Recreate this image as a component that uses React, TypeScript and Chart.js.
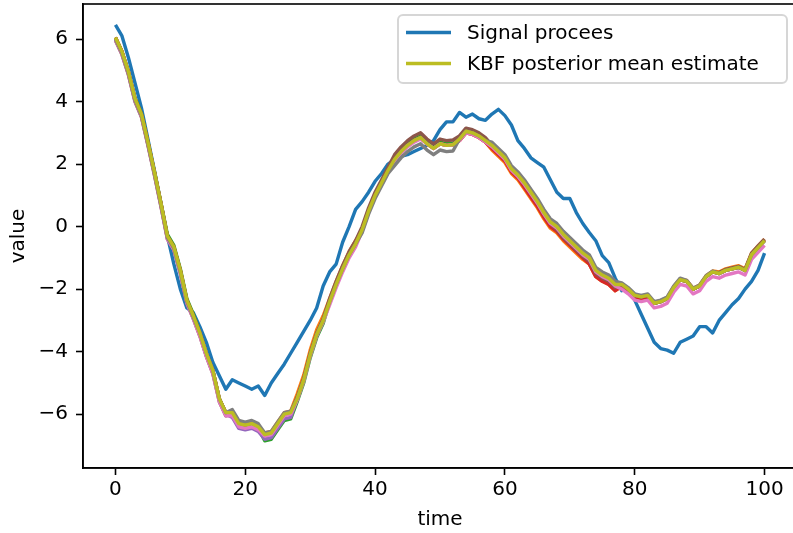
import React, { useEffect, useRef } from 'react';
import { Chart, registerables } from 'chart.js';

Chart.register(...registerables);

// sample times 0..100 (step 1)
const timeSteps: number[] = Array.from({ length: 101 }, (_, i) => i);

const signalValues: number[] = [
  6.45, 6.1, 5.4, 4.6, 3.8, 2.8, 1.8, 0.75, -0.3, -1.2,
  -2.0, -2.6, -2.75, -3.2, -3.7, -4.34, -4.77, -5.2, -4.9, -5.0,
  -5.1, -5.2, -5.1, -5.4, -5.0, -4.7, -4.4, -4.05, -3.7, -3.35,
  -3.0, -2.6, -1.9, -1.45, -1.2, -0.5, 0.0, 0.55, 0.8, 1.1,
  1.45, 1.7, 2.0, 2.15, 2.25, 2.3, 2.4, 2.5, 2.6, 2.75,
  3.1, 3.35, 3.35, 3.65, 3.5, 3.6, 3.45, 3.4, 3.6, 3.75,
  3.55, 3.25, 2.75, 2.5, 2.2, 2.05, 1.9, 1.5, 1.1, 0.9,
  0.9, 0.45, 0.1, -0.19, -0.45, -0.93, -1.15, -1.65, -2.05, -2.0,
  -2.35, -2.8, -3.25, -3.7, -3.9, -3.95, -4.05, -3.7, -3.6, -3.5,
  -3.2, -3.2, -3.4, -3.0, -2.75, -2.5, -2.3, -2.0, -1.75, -1.4, -0.85,
];

const meanValues: number[] = [
  6.05, 5.6, 4.95, 4.1, 3.6, 2.7, 1.75, 0.75, -0.3, -0.65,
  -1.4, -2.35, -2.85, -3.4, -4.05, -4.6, -5.5, -5.95, -5.95, -6.3,
  -6.35, -6.3, -6.4, -6.65, -6.6, -6.3, -6.0, -5.95, -5.5, -4.9,
  -4.1, -3.45, -3.0, -2.4, -1.85, -1.35, -0.9, -0.55, -0.1, 0.5,
  1.0, 1.4, 1.8, 2.15, 2.4, 2.6, 2.75, 2.85, 2.65, 2.5,
  2.65, 2.6, 2.62, 2.8, 3.05, 3.0, 2.9, 2.75, 2.6, 2.4,
  2.2, 1.85, 1.65, 1.4, 1.1, 0.8, 0.45, 0.15, 0.0, -0.25,
  -0.45, -0.65, -0.85, -1.0, -1.4, -1.55, -1.65, -1.85, -1.85, -2.0,
  -2.2, -2.25, -2.2, -2.45, -2.4, -2.3, -1.95, -1.7, -1.75, -2.0,
  -1.9, -1.6, -1.45, -1.5, -1.4, -1.35, -1.3, -1.4, -0.9, -0.67, -0.45,
];

// deviation of each particle estimate from the mean, read every 5 time units
const offsetStep = 5;
const orangeOffsets = [0, 0, 0, 0, 0.02, 0.05, 0.15, 0.1, 0, 0, 0, -0.05, -0.15, -0.2, -0.2, -0.2, -0.05, 0.03, 0.03, 0.05, 0.05];
const greenOffsets = [0, 0.02, 0.05, 0, -0.05, -0.2, -0.1, 0, 0, 0.05, 0.05, 0, 0, -0.05, -0.05, -0.05, 0, 0, 0, 0, 0];
const redOffsets = [0, 0, 0, 0, -0.05, 0, 0, 0, 0, 0, 0, -0.05, -0.1, -0.15, -0.15, -0.2, -0.05, 0, 0, 0, 0];
const purpleOffsets = [-0.05, -0.05, -0.05, -0.05, -0.15, -0.15, 0, 0, 0, 0, 0, 0, 0, 0, 0, 0, 0, 0, 0, 0, 0];
const brownOffsets = [-0.1, -0.1, -0.1, -0.1, -0.05, 0, 0.05, 0.1, 0.1, 0.15, 0.15, 0.1, 0, -0.05, -0.1, -0.1, 0, 0, 0, 0.03, 0.05];
const pinkOffsets = [-0.08, -0.08, -0.1, -0.1, -0.1, -0.05, -0.05, -0.1, -0.05, -0.05, 0, -0.05, -0.05, -0.05, -0.05, -0.05, -0.15, -0.15, -0.15, -0.15, -0.15];
const grayOffsets = [-0.05, -0.05, -0.05, 0, 0.1, 0.05, 0, 0, -0.1, -0.2, -0.2, 0, 0.1, 0.1, 0.1, 0.1, 0.05, 0.05, 0.03, 0, 0];

const particleOffsets = [orangeOffsets, greenOffsets, redOffsets, purpleOffsets, brownOffsets, pinkOffsets, grayOffsets];
const particleColors = ['#ff7f0e', '#2ca02c', '#d62728', '#9467bd', '#8c564b', '#e377c2', '#7f7f7f'];

const xTicks = [0, 20, 40, 60, 80, 100];
const yTicks = [-6, -4, -2, 0, 2, 4, 6];

const legendLabels = ['Signal procees', 'KBF posterior mean estimate'];
const signalColor = '#1f77b4';
const meanColor = '#bcbd22';

const FONT = '"DejaVu Sans", sans-serif';
const LINE_W = 3.4;

const framePlugin = {
  id: 'mplFrame',
  afterDraw(chart: any) {
    const { ctx, chartArea } = chart;
    ctx.save();
    ctx.strokeStyle = '#000';
    ctx.lineWidth = 1.6;
    ctx.strokeRect(chartArea.left, chartArea.top, chartArea.right - chartArea.left, chartArea.bottom - chartArea.top);

    // legend
    const w = 389;
    const h = 68;
    const x = chartArea.right - 10 - w;
    const y = chartArea.top + 11;
    ctx.beginPath();
    (ctx as any).roundRect(x, y, w, h, 5);
    ctx.fillStyle = 'rgba(255,255,255,0.8)';
    ctx.fill();
    ctx.strokeStyle = 'rgba(204,204,204,0.8)';
    ctx.lineWidth = 2;
    ctx.stroke();

    const colors = [signalColor, meanColor];
    const rows = [y + 17.5, y + 48.5];
    ctx.font = `20px ${FONT}`;
    ctx.textBaseline = 'middle';
    ctx.textAlign = 'left';
    legendLabels.forEach((label, i) => {
      ctx.beginPath();
      ctx.moveTo(x + 8, rows[i]);
      ctx.lineTo(x + 53, rows[i]);
      ctx.strokeStyle = colors[i];
      ctx.lineWidth = LINE_W;
      ctx.stroke();
      ctx.fillStyle = '#000';
      ctx.fillText(label, x + 69, rows[i] + 1);
    });
    ctx.restore();
  },
};

export default function App() {
  const canvasRef = useRef<HTMLCanvasElement | null>(null);

  useEffect(() => {
    if (!canvasRef.current) return;
    Chart.defaults.color = '#000';
    Chart.defaults.font.family = FONT;

    const toPoints = (vals: number[]) => timeSteps.map((t, i) => ({ x: t, y: vals[i] }));

    const particleSets = particleOffsets.map((offs, k) => ({
      label: `particle ${k + 1}`,
      data: timeSteps.map((t, i) => ({ x: t, y: meanValues[i] + offs[Math.round(t / offsetStep)] })),
      borderColor: particleColors[k],
      backgroundColor: particleColors[k],
      borderWidth: LINE_W,
      pointRadius: 0,
      tension: 0,
      fill: false,
      order: 7 - k,
    }));

    const zeroPad = (s: any) => {
      s.paddingTop = 0;
      s.paddingBottom = 0;
      s.paddingLeft = 0;
      s.paddingRight = 0;
    };

    const chart = new Chart(canvasRef.current, {
      type: 'line',
      data: {
        datasets: [
          {
            label: legendLabels[0],
            data: toPoints(signalValues),
            borderColor: signalColor,
            backgroundColor: signalColor,
            borderWidth: LINE_W,
            pointRadius: 0,
            tension: 0,
            fill: false,
            order: 8,
          },
          ...particleSets,
          {
            label: legendLabels[1],
            data: toPoints(meanValues),
            borderColor: meanColor,
            backgroundColor: meanColor,
            borderWidth: LINE_W,
            pointRadius: 0,
            tension: 0,
            fill: false,
            order: 0,
          },
        ],
      },
      options: {
        animation: false,
        responsive: false,
        maintainAspectRatio: false,
        devicePixelRatio: 1,
        layout: { padding: { top: 4, right: 3, left: 0, bottom: 0 } },
        plugins: {
          legend: { display: false },
          tooltip: { enabled: false },
        },
        elements: { line: { borderJoinStyle: 'round', borderCapStyle: 'butt' } },
        scales: {
          x: {
            type: 'linear',
            min: -5,
            max: 105,
            afterFit: (s: any) => { s.height = 65; zeroPad(s); },
            afterBuildTicks: (s: any) => { s.ticks = xTicks.map((v) => ({ value: v })); },
            grid: {
              display: true,
              drawOnChartArea: false,
              drawTicks: true,
              tickLength: 7,
              tickColor: '#000',
              tickWidth: 1.6,
            },
            border: { display: true, color: '#000', width: 1.6 },
            ticks: { font: { size: 20, family: FONT }, color: '#000', padding: 3, maxRotation: 0 },
            title: { display: true, text: 'time', font: { size: 20, family: FONT }, color: '#000', padding: { top: 0, bottom: 1 } },
          },
          y: {
            type: 'linear',
            min: -7.72,
            max: 7.12,
            afterFit: (s: any) => { s.width = 83; zeroPad(s); },
            afterBuildTicks: (s: any) => { s.ticks = yTicks.map((v) => ({ value: v })); },
            grid: {
              display: true,
              drawOnChartArea: false,
              drawTicks: true,
              tickLength: 7,
              tickColor: '#000',
              tickWidth: 1.6,
            },
            border: { display: true, color: '#000', width: 1.6 },
            ticks: {
              font: { size: 20, family: FONT },
              color: '#000',
              padding: 8,
              callback: (v: any) => (Number(v) < 0 ? '\u2212' + Math.abs(Number(v)) : String(v)),
            },
            title: { display: true, text: 'value', font: { size: 20, family: FONT }, color: '#000', padding: { top: 7, bottom: 0 } },
          },
        },
      },
      plugins: [framePlugin],
    });
    return () => chart.destroy();
  }, []);

  return (
    <div style={{ position: 'fixed', left: 0, top: 0, width: 793, height: 533, overflow: 'hidden', background: '#fff' }}>
      <canvas ref={canvasRef} width={800} height={533} style={{ width: 800, height: 533, display: 'block' }} />
    </div>
  );
}
